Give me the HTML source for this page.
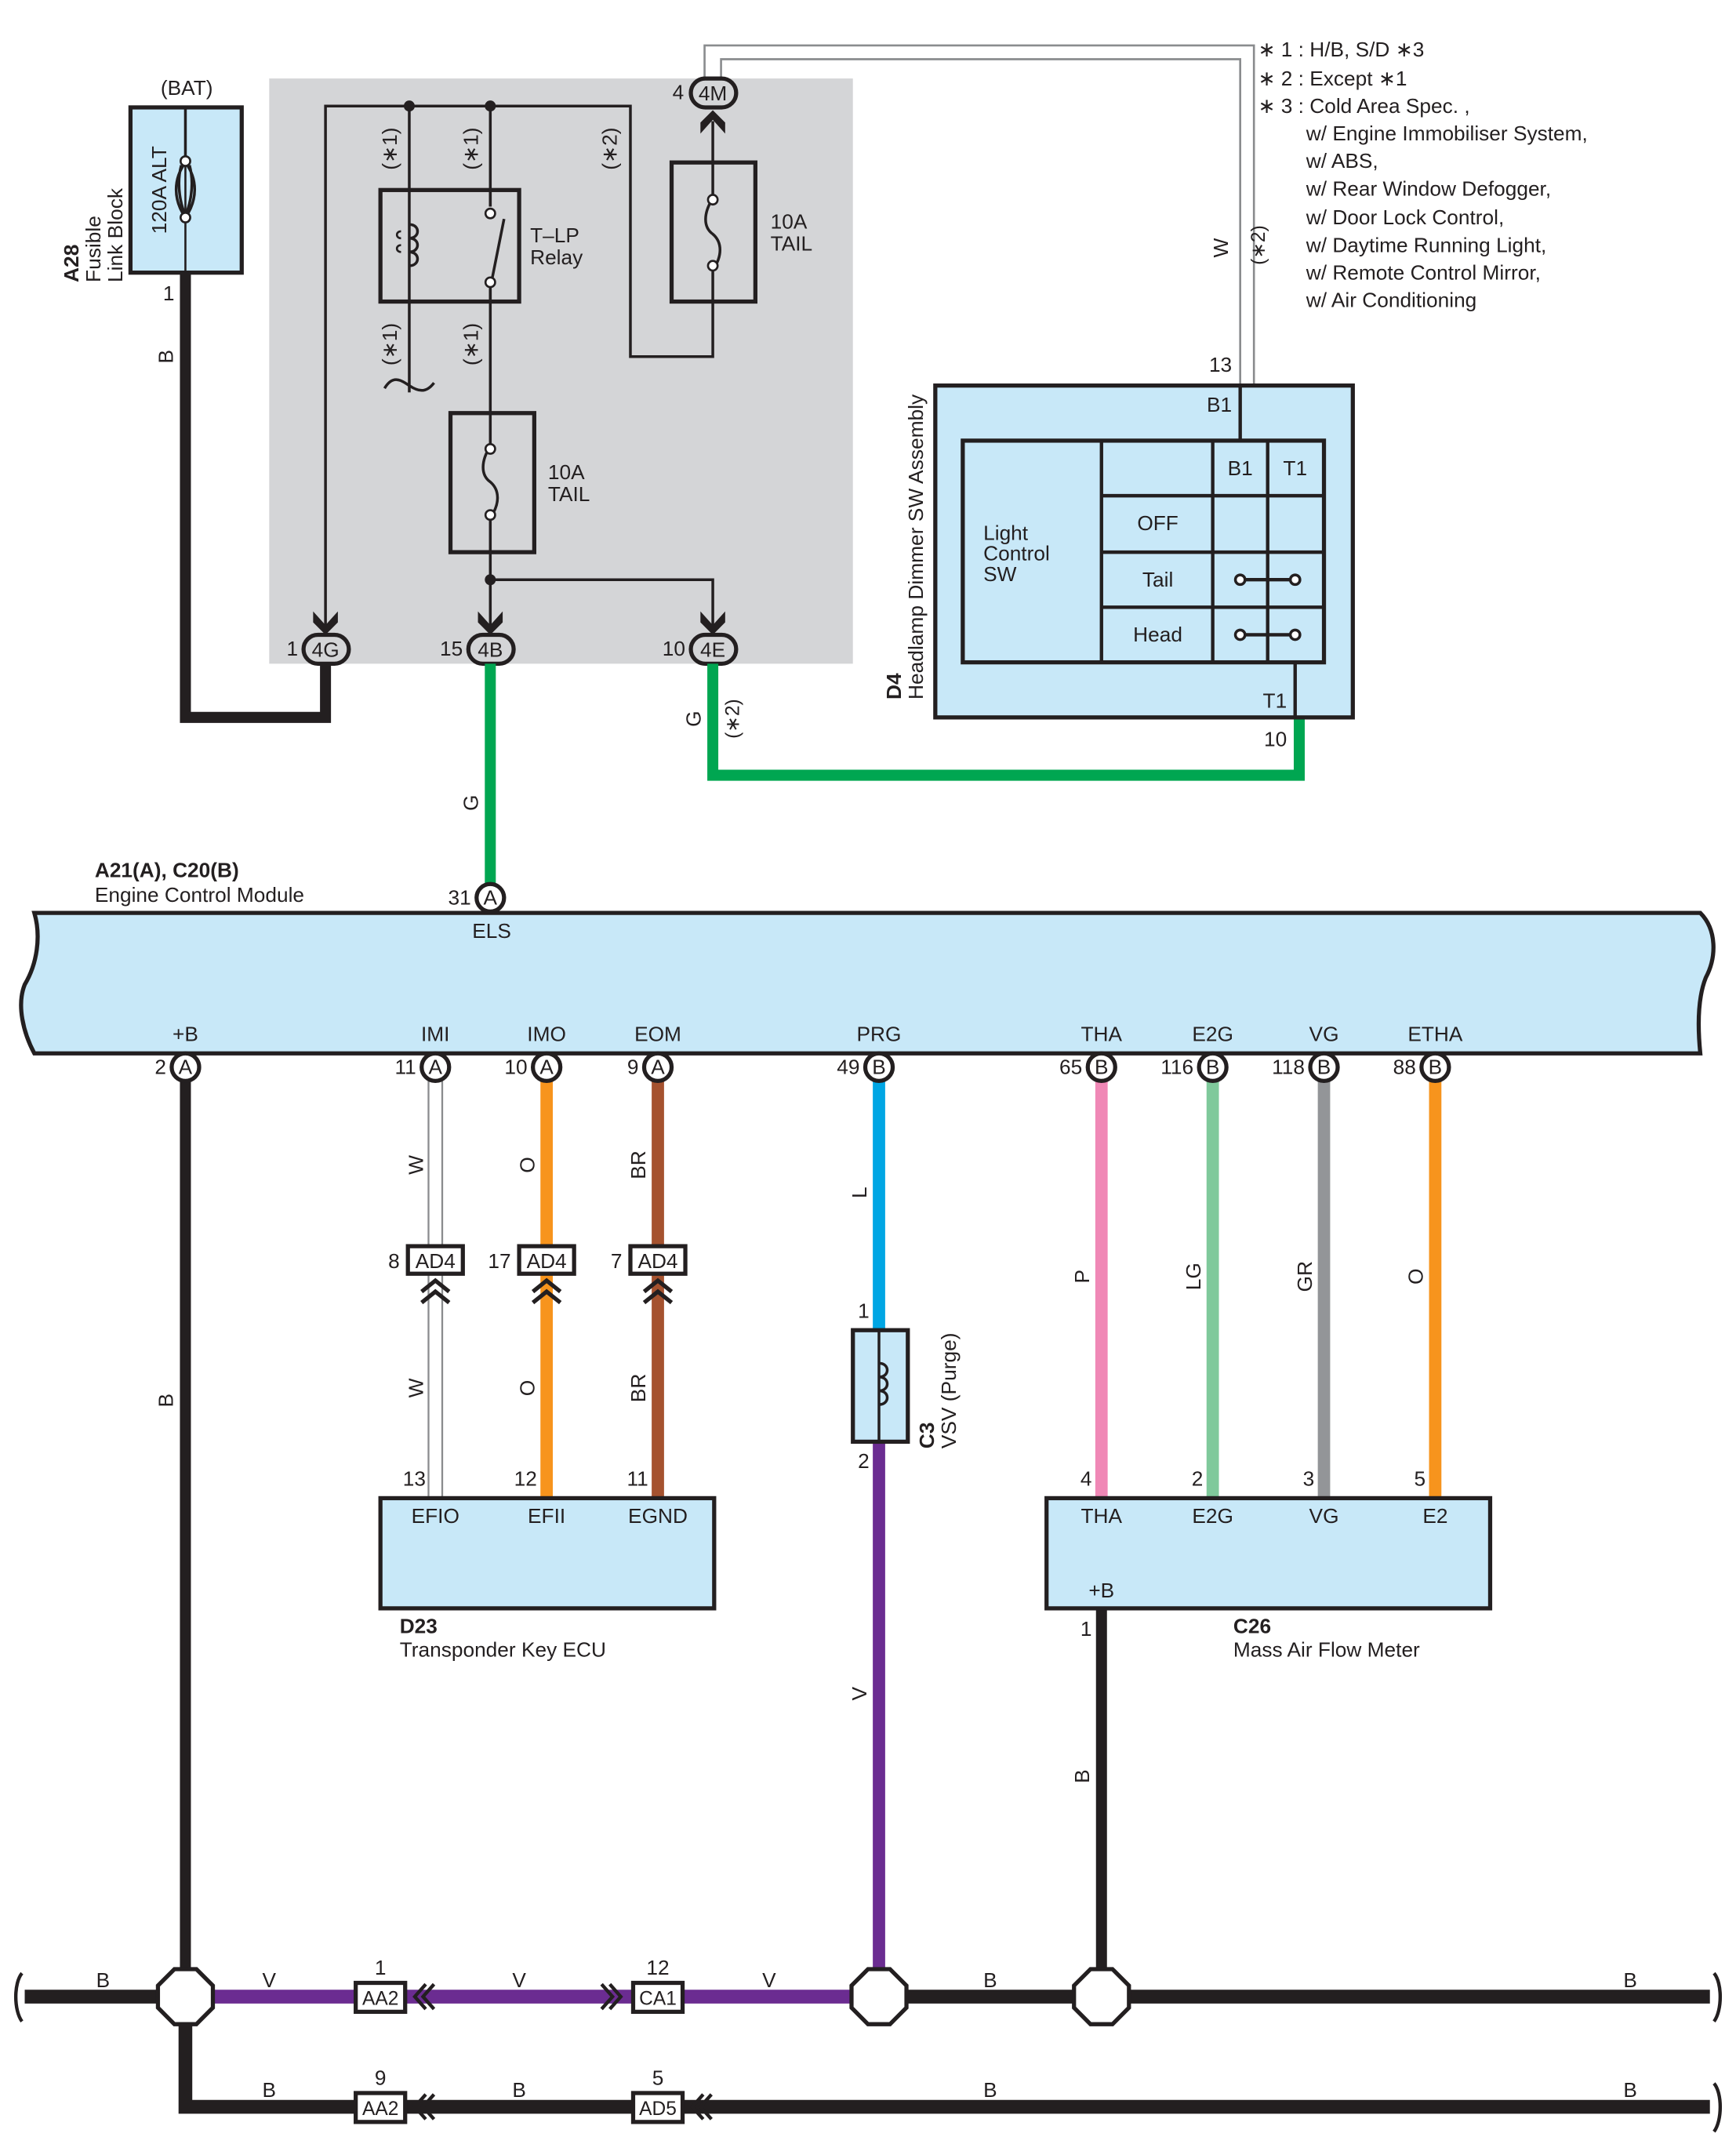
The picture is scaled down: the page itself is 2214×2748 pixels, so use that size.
<!DOCTYPE html>
<html><head><meta charset="utf-8"><style>
html,body{margin:0;padding:0;background:#fff}
svg{display:block}
text{font-family:"Liberation Sans Narrow","Liberation Sans",sans-serif;font-size:15px;fill:#231f20}
.b{font-weight:bold}
.m{text-anchor:middle}
.e{text-anchor:end}
</style></head><body>
<svg width="2214" height="2748" viewBox="0 0 1264 1565" preserveAspectRatio="none" xmlns="http://www.w3.org/2000/svg">
<defs>
<g id="arrD"><path d="M-9,-12 L0,-2 L9,-12 L9,-2 L0,8 L-9,-2Z" fill="#231f20"/></g>
</defs>
<!-- gray block -->
<rect x="196" y="57" width="425" height="425" fill="#d4d5d7"/>

<!-- A28 -->
<text x="136" y="69" class="m">(BAT)</text>
<rect x="95" y="78" width="81" height="120" fill="#c8e8f8" stroke="#231f20" stroke-width="3"/>
<line x1="135" y1="118" x2="135" y2="198" stroke="#231f20" stroke-width="1.5"/>
<path d="M135,78 L135,116 M135,118 C126,130 126,145 135,158 C144,145 144,130 135,118 M132,120 C128,135 132,150 135,156 M138,120 C142,135 138,150 135,156" fill="none" stroke="#231f20" stroke-width="2"/>
<circle cx="135" cy="117" r="3.5" fill="#fff" stroke="#231f20" stroke-width="1.5"/>
<circle cx="135" cy="158" r="3.5" fill="#fff" stroke="#231f20" stroke-width="1.5"/>
<text transform="translate(121,138) rotate(-90)" class="m" style="font-size:15px">120A ALT</text>
<text transform="translate(57,205) rotate(-90)" class="b">A28</text>
<text transform="translate(73,205) rotate(-90)">Fusible</text>
<text transform="translate(89,205) rotate(-90)">Link Block</text>
<text x="127" y="218" class="e">1</text>
<text transform="translate(126,259) rotate(-90)" class="m">B</text>
<path d="M135,198 L135,521 L237,521 L237,478" fill="none" stroke="#231f20" stroke-width="8"/>

<!-- internal wiring -->
<g fill="none" stroke="#231f20" stroke-width="2">
<path d="M237,455 L237,77 L459,77 L459,259 L519,259 L519,219"/>
<path d="M298,77 L298,285"/>
<path d="M357,77 L357,455"/>
<path d="M357,421 L519,421 L519,455"/>
<path d="M519,118 L519,88"/>
<path d="M280,282 C286,272 292,276 298,280 C304,284 310,286 316,278"/>
</g>
<circle cx="298" cy="77" r="4" fill="#231f20"/>
<circle cx="357" cy="77" r="4" fill="#231f20"/>
<circle cx="357" cy="421" r="4" fill="#231f20"/>
<!-- relay -->
<rect x="277" y="138" width="101" height="81" fill="none" stroke="#231f20" stroke-width="3"/>
<path d="M298,163 c8,0 8,10 0,10 c8,0 8,10 0,10 c8,0 8,10 0,10" fill="none" stroke="#231f20" stroke-width="2"/>
<path d="M292,168 c-4,0 -4,5 0,5 M292,178 c-4,0 -4,5 0,5" fill="none" stroke="#231f20" stroke-width="1.5"/>
<rect x="352" y="150" width="10" height="60" fill="#d4d5d7"/>
<line x1="357" y1="138" x2="357" y2="150" stroke="#231f20" stroke-width="2"/>
<line x1="357" y1="208" x2="357" y2="219" stroke="#231f20" stroke-width="2"/>
<line x1="358" y1="204" x2="367" y2="159" stroke="#231f20" stroke-width="2"/>
<circle cx="357" cy="155" r="3.5" fill="#fff" stroke="#231f20" stroke-width="1.5"/>
<circle cx="357" cy="205" r="3.5" fill="#fff" stroke="#231f20" stroke-width="1.5"/>
<text x="386" y="176">T–LP</text>
<text x="386" y="192">Relay</text>
<!-- fuse 1 -->
<rect x="328" y="300" width="61" height="101" fill="#d4d5d7" stroke="#231f20" stroke-width="3"/>
<path d="M357,300 L357,324 C350,335 350,345 357,350 C364,356 364,366 357,376 L357,401" fill="none" stroke="#231f20" stroke-width="2"/>
<circle cx="357" cy="326" r="3.5" fill="#fff" stroke="#231f20" stroke-width="1.5"/>
<circle cx="357" cy="374" r="3.5" fill="#fff" stroke="#231f20" stroke-width="1.5"/>
<text x="399" y="348">10A</text><text x="399" y="364">TAIL</text>
<!-- fuse 2 -->
<rect x="489" y="118" width="61" height="101" fill="#d4d5d7" stroke="#231f20" stroke-width="3"/>
<path d="M519,118 L519,144 C512,155 512,165 519,170 C526,176 526,186 519,196 L519,219" fill="none" stroke="#231f20" stroke-width="2"/>
<circle cx="519" cy="145" r="3.5" fill="#fff" stroke="#231f20" stroke-width="1.5"/>
<circle cx="519" cy="193" r="3.5" fill="#fff" stroke="#231f20" stroke-width="1.5"/>
<text x="561" y="166">10A</text><text x="561" y="182">TAIL</text>
<!-- star labels -->
<g style="font-size:14px">
<text transform="translate(289,108) rotate(-90)" class="m">(∗1)</text>
<text transform="translate(348,108) rotate(-90)" class="m">(∗1)</text>
<text transform="translate(449,108) rotate(-90)" class="m">(∗2)</text>
<text transform="translate(289,250) rotate(-90)" class="m">(∗1)</text>
<text transform="translate(348,250) rotate(-90)" class="m">(∗1)</text>
</g>
<!-- arrows -->
<path d="M228,444 L237,454 L246,444 L246,452 L237,461 L228,452Z" fill="#231f20"/>
<path d="M348,444 L357,454 L366,444 L366,452 L357,461 L348,452Z" fill="#231f20"/>
<path d="M510,444 L519,454 L528,444 L528,452 L519,461 L510,452Z" fill="#231f20"/>
<path d="M510,97 L519,87 L528,97 L528,89 L519,80 L510,89Z" fill="#231f20"/>

<!-- W double wire -->
<path d="M513,60 L513,33 L913,33 L913,280" fill="none" stroke="#8a8c8e" stroke-width="1.5"/>
<path d="M525,60 L525,43 L903,43 L903,280" fill="none" stroke="#8a8c8e" stroke-width="1.5"/>
<text transform="translate(894,180) rotate(-90)" class="m">W</text>
<text transform="translate(921,178) rotate(-90)" class="m" style="font-size:14px">(∗2)</text>

<!-- connectors top -->
<g stroke="#231f20" stroke-width="3" fill="#d4d5d7">
<rect x="503" y="57" width="33" height="21" rx="10.5"/>
<rect x="221" y="461" width="33" height="21" rx="10.5"/>
<rect x="341" y="461" width="33" height="21" rx="10.5"/>
<rect x="503" y="461" width="33" height="21" rx="10.5"/>
</g>
<text x="519" y="73" class="m">4M</text><text x="498" y="72" class="e">4</text>
<text x="237" y="477" class="m">4G</text><text x="217" y="476" class="e">1</text>
<text x="357" y="477" class="m">4B</text><text x="337" y="476" class="e">15</text>
<text x="519" y="477" class="m">4E</text><text x="499" y="476" class="e">10</text>

<!-- green wires -->
<path d="M357,482 L357,643" stroke="#00a651" stroke-width="8" fill="none"/>
<path d="M519,482 L519,563 L946,563 L946,522" stroke="#00a651" stroke-width="8" fill="none"/>
<text transform="translate(348,583) rotate(-90)" class="m">G</text>
<text transform="translate(510,522) rotate(-90)" class="m">G</text>
<text transform="translate(538,522) rotate(-90)" class="m" style="font-size:14px">(∗2)</text>

<!-- notes -->
<g style="font-size:14.5px">
<text x="916" y="41">∗ 1 : H/B,  S/D ∗3</text>
<text x="916" y="62">∗ 2 : Except ∗1</text>
<text x="916" y="82">∗ 3 : Cold Area Spec. ,</text>
<text x="951" y="102">w/ Engine Immobiliser System,</text>
<text x="951" y="122">w/ ABS,</text>
<text x="951" y="142">w/ Rear Window Defogger,</text>
<text x="951" y="163">w/ Door Lock Control,</text>
<text x="951" y="183">w/ Daytime Running Light,</text>
<text x="951" y="203">w/ Remote Control Mirror,</text>
<text x="951" y="223">w/ Air Conditioning</text>
</g>

<!-- D4 -->
<rect x="681" y="280" width="304" height="241" fill="#c8e8f8" stroke="#231f20" stroke-width="3"/>
<rect x="701" y="320" width="263" height="161" fill="none" stroke="#231f20" stroke-width="3"/>
<g stroke="#231f20" stroke-width="2.5">
<line x1="802" y1="320" x2="802" y2="481"/>
<line x1="883" y1="320" x2="883" y2="481"/>
<line x1="923" y1="320" x2="923" y2="481"/>
<line x1="802" y1="360" x2="964" y2="360"/>
<line x1="802" y1="401" x2="964" y2="401"/>
<line x1="802" y1="441" x2="964" y2="441"/>
<line x1="903" y1="280" x2="903" y2="320"/>
<line x1="943" y1="481" x2="943" y2="521"/>
<line x1="903" y1="421" x2="943" y2="421"/>
<line x1="903" y1="461" x2="943" y2="461"/>
</g>
<g fill="#fff" stroke="#231f20" stroke-width="2">
<circle cx="903" cy="421" r="3.5"/><circle cx="943" cy="421" r="3.5"/>
<circle cx="903" cy="461" r="3.5"/><circle cx="943" cy="461" r="3.5"/>
</g>
<text x="716" y="392">Light</text><text x="716" y="407">Control</text><text x="716" y="422">SW</text>
<text x="843" y="385" class="m">OFF</text>
<text x="843" y="426" class="m">Tail</text>
<text x="843" y="466" class="m">Head</text>
<text x="903" y="345" class="m">B1</text>
<text x="943" y="345" class="m">T1</text>
<text x="897" y="299" class="e">B1</text>
<text x="937" y="514" class="e">T1</text>
<text x="897" y="270" class="e">13</text>
<text x="937" y="542" class="e">10</text>
<text transform="translate(656,508) rotate(-90)" class="b">D4</text>
<text transform="translate(672,508) rotate(-90)">Headlamp Dimmer SW Assembly</text>

<!-- ECM -->
<text x="69" y="637" class="b">A21(A), C20(B)</text>
<text x="69" y="655">Engine Control Module</text>
<path d="M25,663 L1238,663 C1250,675 1250,695 1242,710 C1236,725 1236,745 1238,765 L25,765 C17,750 12,730 18,715 C27,700 30,680 25,663Z" fill="#c8e8f8" stroke="#231f20" stroke-width="3"/>
<text x="358" y="681" class="m">ELS</text>
<g class="m">
<text x="135" y="756" class="m">+B</text>
<text x="317" y="756" class="m">IMI</text>
<text x="398" y="756" class="m">IMO</text>
<text x="479" y="756" class="m">EOM</text>
<text x="640" y="756" class="m">PRG</text>
<text x="802" y="756" class="m">THA</text>
<text x="883" y="756" class="m">E2G</text>
<text x="964" y="756" class="m">VG</text>
<text x="1045" y="756" class="m">ETHA</text>
</g>

<!-- wires down -->
<path d="M135,785 L135,1430" stroke="#231f20" stroke-width="8"/>
<path d="M312,785 L312,1088 M322,785 L322,1088" stroke="#8a8c8e" stroke-width="1.3"/>
<path d="M398,785 L398,1088" stroke="#f7941d" stroke-width="9"/>
<path d="M479,785 L479,1088" stroke="#a5522f" stroke-width="9"/>
<path d="M640,785 L640,966" stroke="#00a6e4" stroke-width="9"/>
<path d="M640,1047 L640,1432" stroke="#6b2c91" stroke-width="9"/>
<path d="M802,785 L802,1088" stroke="#f088b6" stroke-width="9"/>
<path d="M883,785 L883,1088" stroke="#7fc99b" stroke-width="9"/>
<path d="M964,785 L964,1088" stroke="#939598" stroke-width="9"/>
<path d="M1045,785 L1045,1088" stroke="#f7941d" stroke-width="9"/>
<path d="M802,1168 L802,1432" stroke="#231f20" stroke-width="8"/>

<!-- pin circles -->
<g fill="#fff" stroke="#231f20" stroke-width="3">
<circle cx="357" cy="652" r="10"/>
<circle cx="135" cy="775" r="10"/><circle cx="317" cy="775" r="10"/><circle cx="398" cy="775" r="10"/><circle cx="479" cy="775" r="10"/>
<circle cx="640" cy="775" r="10"/><circle cx="802" cy="775" r="10"/><circle cx="883" cy="775" r="10"/><circle cx="964" cy="775" r="10"/><circle cx="1045" cy="775" r="10"/>
</g>
<g style="font-size:14px">
<text x="357" y="657" class="m">A</text><text x="343" y="657" class="e">31</text>
<text x="135" y="780" class="m">A</text><text x="121" y="780" class="e">2</text>
<text x="317" y="780" class="m">A</text><text x="303" y="780" class="e">11</text>
<text x="398" y="780" class="m">A</text><text x="384" y="780" class="e">10</text>
<text x="479" y="780" class="m">A</text><text x="465" y="780" class="e">9</text>
<text x="640" y="780" class="m">B</text><text x="626" y="780" class="e">49</text>
<text x="802" y="780" class="m">B</text><text x="788" y="780" class="e">65</text>
<text x="883" y="780" class="m">B</text><text x="869" y="780" class="e">116</text>
<text x="964" y="780" class="m">B</text><text x="950" y="780" class="e">118</text>
<text x="1045" y="780" class="m">B</text><text x="1031" y="780" class="e">88</text>
</g>

<!-- wire labels -->
<text transform="translate(308,846) rotate(-90)" class="m">W</text>
<text transform="translate(389,846) rotate(-90)" class="m">O</text>
<text transform="translate(470,846) rotate(-90)" class="m">BR</text>
<text transform="translate(308,1008) rotate(-90)" class="m">W</text>
<text transform="translate(389,1008) rotate(-90)" class="m">O</text>
<text transform="translate(470,1008) rotate(-90)" class="m">BR</text>
<text transform="translate(631,866) rotate(-90)" class="m">L</text>
<text transform="translate(793,927) rotate(-90)" class="m">P</text>
<text transform="translate(874,927) rotate(-90)" class="m">LG</text>
<text transform="translate(955,927) rotate(-90)" class="m">GR</text>
<text transform="translate(1036,927) rotate(-90)" class="m">O</text>
<text transform="translate(631,1230) rotate(-90)" class="m">V</text>
<text transform="translate(126,1017) rotate(-90)" class="m">B</text>
<text transform="translate(793,1290) rotate(-90)" class="m">B</text>

<!-- AD4 connectors -->
<g fill="#fff" stroke="#231f20" stroke-width="3">
<rect x="297" y="905" width="40" height="20"/>
<rect x="378" y="905" width="40" height="20"/>
<rect x="459" y="905" width="40" height="20"/>
</g>
<text x="317" y="921" class="m">AD4</text><text x="291" y="921" class="e">8</text>
<text x="398" y="921" class="m">AD4</text><text x="372" y="921" class="e">17</text>
<text x="479" y="921" class="m">AD4</text><text x="453" y="921" class="e">7</text>
<g fill="none" stroke="#231f20" stroke-width="3">
<path d="M307,938 L317,930 L327,938 M307,946 L317,938 L327,946"/>
<path d="M388,938 L398,930 L408,938 M388,946 L398,938 L408,946"/>
<path d="M469,938 L479,930 L489,938 M469,946 L479,938 L489,946"/>
</g>

<!-- VSV -->
<rect x="621" y="966" width="40" height="81" fill="#c8e8f8" stroke="#231f20" stroke-width="3"/>
<line x1="640" y1="966" x2="640" y2="1047" stroke="#231f20" stroke-width="2"/>
<path d="M640,990 c8,0 8,10 0,10 c8,0 8,10 0,10 c8,0 8,10 0,10" fill="none" stroke="#231f20" stroke-width="2"/>
<text x="633" y="957" class="e">1</text>
<text x="633" y="1066" class="e">2</text>
<text transform="translate(680,1052) rotate(-90)" class="b">C3</text>
<text transform="translate(696,1052) rotate(-90)">VSV (Purge)</text>

<!-- D23 -->
<rect x="277" y="1088" width="243" height="80" fill="#c8e8f8" stroke="#231f20" stroke-width="3"/>
<text x="317" y="1106" class="m">EFIO</text><text x="398" y="1106" class="m">EFII</text><text x="479" y="1106" class="m">EGND</text>
<text x="310" y="1079" class="e">13</text><text x="391" y="1079" class="e">12</text><text x="472" y="1079" class="e">11</text>
<text x="291" y="1186" class="b">D23</text>
<text x="291" y="1203">Transponder Key ECU</text>

<!-- C26 -->
<rect x="762" y="1088" width="323" height="80" fill="#c8e8f8" stroke="#231f20" stroke-width="3"/>
<text x="802" y="1106" class="m">THA</text><text x="883" y="1106" class="m">E2G</text><text x="964" y="1106" class="m">VG</text><text x="1045" y="1106" class="m">E2</text>
<text x="795" y="1079" class="e">4</text><text x="876" y="1079" class="e">2</text><text x="957" y="1079" class="e">3</text><text x="1038" y="1079" class="e">5</text>
<text x="802" y="1160" class="m">+B</text>
<text x="795" y="1188" class="e">1</text>
<text x="898" y="1186" class="b">C26</text>
<text x="898" y="1203">Mass Air Flow Meter</text>

<!-- bottom bus 1 -->
<path d="M18,1450 L115,1450" stroke="#231f20" stroke-width="10"/>
<path d="M155,1450 L620,1450" stroke="#6b2c91" stroke-width="10"/>
<path d="M660,1450 L1245,1450" stroke="#231f20" stroke-width="10"/>
<path d="M135,1470 L135,1530 L1245,1530" fill="none" stroke="#231f20" stroke-width="10"/>
<g fill="#fff" stroke="#231f20" stroke-width="3">
<path d="M127,1430 L143,1430 L155,1442 L155,1458 L143,1470 L127,1470 L115,1458 L115,1442Z"/>
<path d="M632,1430 L648,1430 L660,1442 L660,1458 L648,1470 L632,1470 L620,1458 L620,1442Z"/>
<path d="M794,1430 L810,1430 L822,1442 L822,1458 L810,1470 L794,1470 L782,1458 L782,1442Z"/>
<rect x="259" y="1440" width="36" height="21"/>
<rect x="461" y="1440" width="36" height="21"/>
<rect x="259" y="1520" width="36" height="21"/>
<rect x="461" y="1520" width="36" height="21"/>
</g>
<g fill="none" stroke="#231f20" stroke-width="2.5">
<path d="M310,1441 L302,1450 L310,1459 M316,1441 L308,1450 L316,1459"/>
<path d="M444,1441 L452,1450 L444,1459 M438,1441 L446,1450 L438,1459"/>
<path d="M310,1521 L302,1530 L310,1539 M316,1521 L308,1530 L316,1539"/>
<path d="M512,1521 L504,1530 L512,1539 M518,1521 L510,1530 L518,1539"/>
<path d="M16,1433 C10,1440 10,1460 16,1468"/>
<path d="M1248,1433 C1254,1440 1254,1460 1248,1468"/>
<path d="M1248,1513 C1254,1520 1254,1540 1248,1548"/>
</g>
<text x="277" y="1456" class="m" style="font-size:14px">AA2</text>
<text x="479" y="1456" class="m" style="font-size:14px">CA1</text>
<text x="277" y="1536" class="m" style="font-size:14px">AA2</text>
<text x="479" y="1536" class="m" style="font-size:14px">AD5</text>
<text x="277" y="1434" class="m">1</text>
<text x="479" y="1434" class="m">12</text>
<text x="277" y="1514" class="m">9</text>
<text x="479" y="1514" class="m">5</text>
<text x="75" y="1443" class="m">B</text>
<text x="196" y="1443" class="m">V</text>
<text x="378" y="1443" class="m">V</text>
<text x="560" y="1443" class="m">V</text>
<text x="721" y="1443" class="m">B</text>
<text x="1187" y="1443" class="m">B</text>
<text x="196" y="1523" class="m">B</text>
<text x="378" y="1523" class="m">B</text>
<text x="721" y="1523" class="m">B</text>
<text x="1187" y="1523" class="m">B</text>
</svg>
</body></html>
